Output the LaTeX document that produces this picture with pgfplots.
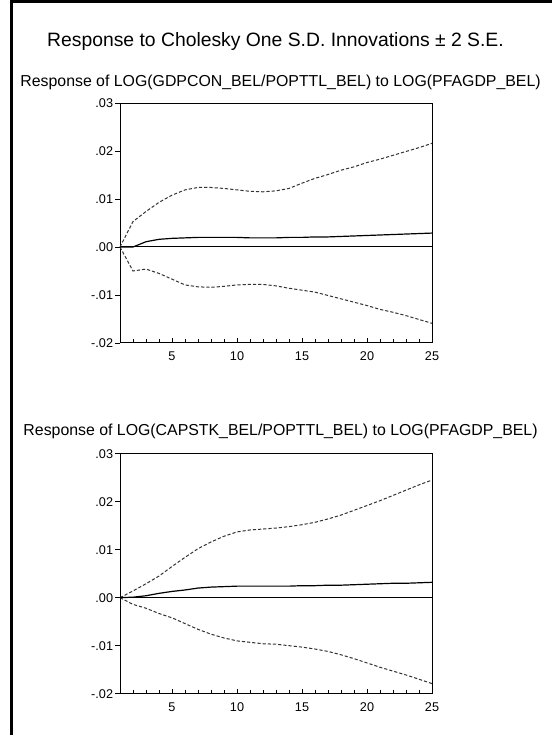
\documentclass[border=0pt]{standalone}
\usepackage{pgfplots}
\pgfplotsset{compat=1.18}
\usepackage{pgfplotstable}
\usepackage{fontspec}
\setmainfont{Liberation Sans}

\pgfplotstableread{
t m u l
1 0 0 0
2 0.0000 0.0053 -0.0050
3 0.0011 0.0074 -0.0046
4 0.0016 0.0093 -0.0055
5 0.0018 0.0108 -0.0067
6 0.0019 0.0119 -0.0079
7 0.0020 0.0124 -0.0083
8 0.0020 0.0124 -0.0084
9 0.0020 0.0122 -0.0082
10 0.0020 0.0119 -0.0079
11 0.0019 0.0116 -0.0078
12 0.0019 0.0115 -0.0078
13 0.0019 0.0117 -0.0081
14 0.0020 0.0122 -0.0086
15 0.0020 0.0133 -0.0090
16 0.0021 0.0143 -0.0094
17 0.0021 0.0151 -0.0101
18 0.0022 0.0160 -0.0108
19 0.0023 0.0167 -0.0115
20 0.0024 0.0176 -0.0122
21 0.0025 0.0183 -0.0130
22 0.0026 0.0191 -0.0136
23 0.0027 0.0199 -0.0143
24 0.0028 0.0207 -0.0151
25 0.0029 0.0216 -0.0159
}\gdp

\pgfplotstableread{
t m u l
1 0 0 0
2 0.0001 0.0014 -0.0014
3 0.0004 0.0029 -0.0022
4 0.0009 0.0045 -0.0033
5 0.0013 0.0065 -0.0042
6 0.0016 0.0084 -0.0054
7 0.0020 0.0102 -0.0066
8 0.0022 0.0116 -0.0076
9 0.0023 0.0128 -0.0084
10 0.0024 0.0137 -0.0090
11 0.0024 0.0141 -0.0093
12 0.0024 0.0143 -0.0096
13 0.0024 0.0145 -0.0097
14 0.0024 0.0148 -0.0100
15 0.0025 0.0152 -0.0103
16 0.0025 0.0157 -0.0107
17 0.0026 0.0164 -0.0112
18 0.0026 0.0172 -0.0119
19 0.0027 0.0182 -0.0127
20 0.0028 0.0192 -0.0136
21 0.0029 0.0202 -0.0145
22 0.0030 0.0213 -0.0153
23 0.0030 0.0224 -0.0161
24 0.0031 0.0235 -0.0170
25 0.0032 0.0245 -0.0179
}\cap

\pgfplotsset{
  irf/.style={
    scale only axis,
    width=234pt, height=180pt,
    anchor=south west,
    xmin=1, xmax=25,
    ymin=-0.02, ymax=0.03,
    scaled y ticks=false, scaled x ticks=false,
    axis line style={line width=0.75pt},
    xtick={5,10,15,20,25},
    minor xtick={2,3,4,6,7,8,9,11,12,13,14,16,17,18,19,21,22,23,24},
    ytick={-0.02,-0.01,0,0.01,0.02,0.03},
    yticklabels={-.02,-.01,.00,.01,.02,.03},
    xticklabels={5,10,15,20,25},
    xtick pos=bottom, ytick pos=left,
    xtick align=inside, ytick align=outside,
    major tick length=3.5pt, minor tick length=3pt,
    tick style={black, line width=0.6pt},
    ticklabel style={font=\fontsize{9.5pt}{11pt}\selectfont},
    yticklabel style={inner sep=1.5pt},
    xticklabel style={yshift=-3.2pt},
    clip=false,
  },
  band/.style={black!80, line width=0.75pt, dash pattern=on 2.4pt off 1.5pt},
  mainl/.style={black, line width=0.9pt},
}

\begin{document}
\begin{tikzpicture}
\path[use as bounding box] (0,0) rectangle (414pt,551.25pt);
\draw[line width=2.2pt] (8.8pt,0) -- (8.8pt,550pt) -- (414pt,550pt);

\node[anchor=base, inner sep=0pt] at (206.6pt,516pt)
  {\fontsize{14.5pt}{17pt}\selectfont Response to Cholesky One S.D. Innovations \char"00B1{} 2 S.E.};
\node[anchor=base, inner sep=0pt] at (210.4pt,486.6pt)
  {\fontsize{11.9pt}{14pt}\selectfont Response of LOG(GDPCON\_BEL/POPTTL\_BEL) to LOG(PFAGDP\_BEL)};
\node[anchor=base, inner sep=0pt] at (210.4pt,224.4pt)
  {\fontsize{11.9pt}{14pt}\selectfont Response of LOG(CAPSTK\_BEL/POPTTL\_BEL) to LOG(PFAGDP\_BEL)};

\begin{axis}[irf, at={(90pt,294pt)}]
  \addplot[black, line width=0.75pt] coordinates {(1,0) (25,0)};
  \addplot[band] table[x=t,y=u] {\gdp};
  \addplot[band] table[x=t,y=l] {\gdp};
  \addplot[mainl] table[x=t,y=m] {\gdp};
\end{axis}

\begin{axis}[irf, at={(90pt,31pt)}]
  \addplot[black, line width=0.75pt] coordinates {(1,0) (25,0)};
  \addplot[band] table[x=t,y=u] {\cap};
  \addplot[band] table[x=t,y=l] {\cap};
  \addplot[mainl] table[x=t,y=m] {\cap};
\end{axis}
\end{tikzpicture}
\end{document}
